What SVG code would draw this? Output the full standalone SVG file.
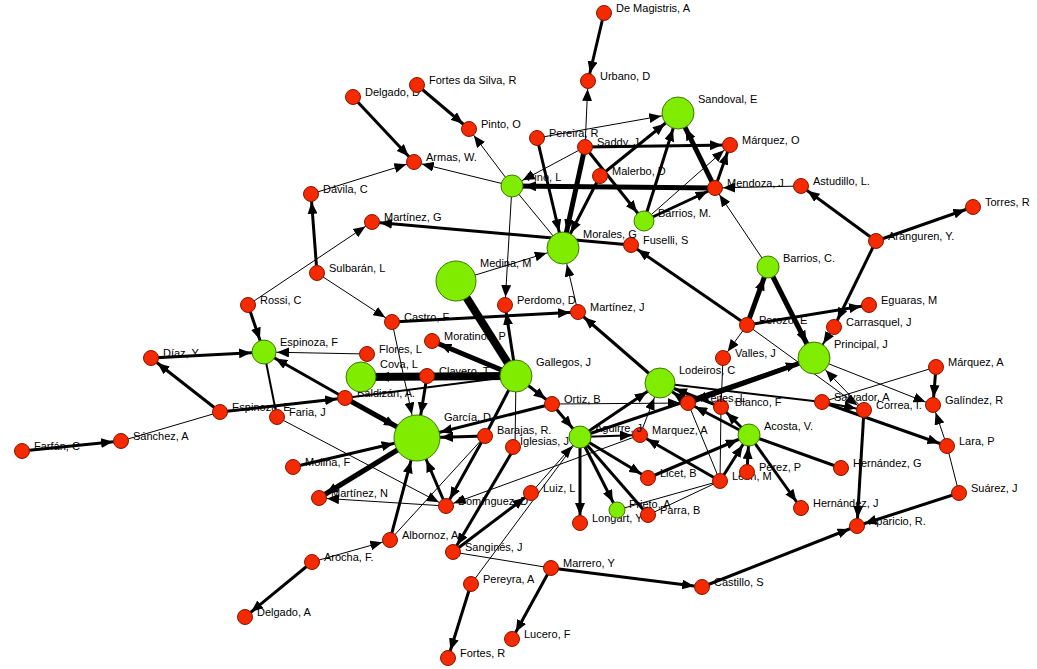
<svg xmlns="http://www.w3.org/2000/svg" width="1037" height="669" viewBox="0 0 1037 669">
<style>
.e line{stroke:#000;fill:none}
.w1{stroke-width:1}
.w2{stroke-width:2}
.w3{stroke-width:3}
.w5{stroke-width:5}
.w8{stroke-width:8}
.r{fill:#f42a00;stroke:#8a1400;stroke-width:1}
.g{fill:#80ec00;stroke:#3c7a00;stroke-width:1}
text{font-family:"Liberation Sans",Arial,sans-serif;font-size:11px;fill:#000}
</style>
<defs>
<marker id="a8" markerUnits="userSpaceOnUse" orient="auto" markerWidth="12" markerHeight="10" refX="20" refY="5"><path d="M0,0 L12,5 L0,10z"/></marker>
<marker id="a9" markerUnits="userSpaceOnUse" orient="auto" markerWidth="12" markerHeight="10" refX="21" refY="5"><path d="M0,0 L12,5 L0,10z"/></marker>
<marker id="a10" markerUnits="userSpaceOnUse" orient="auto" markerWidth="12" markerHeight="10" refX="23" refY="5"><path d="M0,0 L12,5 L0,10z"/></marker>
<marker id="a11" markerUnits="userSpaceOnUse" orient="auto" markerWidth="12" markerHeight="10" refX="24" refY="5"><path d="M0,0 L12,5 L0,10z"/></marker>
<marker id="a12" markerUnits="userSpaceOnUse" orient="auto" markerWidth="12" markerHeight="10" refX="25" refY="5"><path d="M0,0 L12,5 L0,10z"/></marker>
<marker id="a15" markerUnits="userSpaceOnUse" orient="auto" markerWidth="12" markerHeight="10" refX="28" refY="5"><path d="M0,0 L12,5 L0,10z"/></marker>
<marker id="a16" markerUnits="userSpaceOnUse" orient="auto" markerWidth="12" markerHeight="10" refX="29" refY="5"><path d="M0,0 L12,5 L0,10z"/></marker>
<marker id="a20" markerUnits="userSpaceOnUse" orient="auto" markerWidth="12" markerHeight="10" refX="33" refY="5"><path d="M0,0 L12,5 L0,10z"/></marker>
<marker id="a23" markerUnits="userSpaceOnUse" orient="auto" markerWidth="12" markerHeight="10" refX="36" refY="5"><path d="M0,0 L12,5 L0,10z"/></marker>
</defs>
<rect width="1037" height="669" fill="#fff"/>
<g id="connectors" class="e">
<line class="w3" x1="604" y1="13" x2="588" y2="81" marker-end="url(#a8)"/>
<line class="w1" x1="585" y1="147" x2="588" y2="81" marker-end="url(#a8)"/>
<line class="w1" x1="537" y1="138" x2="678" y2="113" marker-end="url(#a16)"/>
<line class="w3" x1="585" y1="147" x2="730" y2="145" marker-end="url(#a8)"/>
<line class="w3" x1="537" y1="138" x2="563" y2="248" marker-end="url(#a16)"/>
<line class="w5" x1="585" y1="147" x2="563" y2="248" marker-end="url(#a16)"/>
<line class="w3" x1="585" y1="147" x2="644" y2="221" marker-end="url(#a10)"/>
<line class="w1" x1="585" y1="147" x2="512" y2="186" marker-end="url(#a11)"/>
<line class="w3" x1="600" y1="176" x2="678" y2="113" marker-end="url(#a16)"/>
<line class="w3" x1="600" y1="176" x2="563" y2="248" marker-end="url(#a16)"/>
<line class="w3" x1="644" y1="221" x2="678" y2="113" marker-end="url(#a16)"/>
<line class="w5" x1="715" y1="188" x2="678" y2="113" marker-end="url(#a16)"/>
<line class="w3" x1="715" y1="188" x2="730" y2="145" marker-end="url(#a8)"/>
<line class="w5" x1="715" y1="188" x2="512" y2="186" marker-end="url(#a11)"/>
<line class="w1" x1="644" y1="221" x2="730" y2="145" marker-end="url(#a8)"/>
<line class="w3" x1="644" y1="221" x2="715" y2="188" marker-end="url(#a8)"/>
<line class="w1" x1="801" y1="186" x2="715" y2="188" marker-end="url(#a8)"/>
<line class="w3" x1="876" y1="241" x2="801" y2="186" marker-end="url(#a8)"/>
<line class="w3" x1="876" y1="241" x2="973" y2="207" marker-end="url(#a8)"/>
<line class="w3" x1="876" y1="241" x2="834" y2="327" marker-end="url(#a8)"/>
<line class="w1" x1="768" y1="267" x2="715" y2="188" marker-end="url(#a8)"/>
<line class="w5" x1="747" y1="325" x2="768" y2="267" marker-end="url(#a11)"/>
<line class="w3" x1="747" y1="325" x2="631" y2="245" marker-end="url(#a8)"/>
<line class="w5" x1="768" y1="267" x2="814" y2="358" marker-end="url(#a16)"/>
<line class="w3" x1="747" y1="325" x2="869" y2="305" marker-end="url(#a8)"/>
<line class="w1" x1="747" y1="325" x2="723" y2="358" marker-end="url(#a8)"/>
<line class="w1" x1="747" y1="325" x2="864" y2="410" marker-end="url(#a8)"/>
<line class="w2" x1="834" y1="327" x2="814" y2="358" marker-end="url(#a16)"/>
<line class="w1" x1="814" y1="358" x2="933" y2="405" marker-end="url(#a8)"/>
<line class="w1" x1="936" y1="367" x2="822" y2="402"/>
<line class="w3" x1="936" y1="367" x2="933" y2="405" marker-end="url(#a8)"/>
<line class="w1" x1="947" y1="446" x2="933" y2="405" marker-end="url(#a8)"/>
<line class="w1" x1="864" y1="410" x2="814" y2="358" marker-end="url(#a16)"/>
<line class="w3" x1="822" y1="402" x2="947" y2="446" marker-end="url(#a8)"/>
<line class="w2" x1="822" y1="402" x2="660" y2="383"/>
<line class="w2" x1="822" y1="402" x2="864" y2="410" marker-end="url(#a8)"/>
<line class="w3" x1="864" y1="410" x2="857" y2="526" marker-end="url(#a8)"/>
<line class="w1" x1="959" y1="493" x2="947" y2="446"/>
<line class="w3" x1="959" y1="493" x2="857" y2="526" marker-end="url(#a8)"/>
<line class="w3" x1="702" y1="587" x2="857" y2="526" marker-end="url(#a8)"/>
<line class="w3" x1="551" y1="568" x2="702" y2="587" marker-end="url(#a8)"/>
<line class="w3" x1="551" y1="568" x2="512" y2="639" marker-end="url(#a8)"/>
<line class="w3" x1="471" y1="584" x2="448" y2="658" marker-end="url(#a8)"/>
<line class="w1" x1="551" y1="568" x2="453" y2="552"/>
<line class="w3" x1="312" y1="562" x2="245" y2="617" marker-end="url(#a8)"/>
<line class="w1" x1="312" y1="562" x2="390" y2="540" marker-end="url(#a8)"/>
<line class="w3" x1="390" y1="540" x2="417" y2="438" marker-end="url(#a23)"/>
<line class="w3" x1="446" y1="506" x2="417" y2="438" marker-end="url(#a23)"/>
<line class="w1" x1="446" y1="506" x2="319" y2="498" marker-end="url(#a8)"/>
<line class="w5" x1="417" y1="438" x2="319" y2="498" marker-end="url(#a8)"/>
<line class="w3" x1="293" y1="467" x2="417" y2="438" marker-end="url(#a23)"/>
<line class="w3" x1="485" y1="436" x2="446" y2="506" marker-end="url(#a8)"/>
<line class="w3" x1="515" y1="447" x2="453" y2="552" marker-end="url(#a8)"/>
<line class="w1" x1="277" y1="417" x2="446" y2="506" marker-end="url(#a8)"/>
<line class="w1" x1="640" y1="435" x2="446" y2="506" marker-end="url(#a8)"/>
<line class="w1" x1="485" y1="436" x2="390" y2="540"/>
<line class="w3" x1="552" y1="404" x2="417" y2="438" marker-end="url(#a23)"/>
<line class="w3" x1="485" y1="436" x2="417" y2="438" marker-end="url(#a23)"/>
<line class="w3" x1="427" y1="376" x2="417" y2="438" marker-end="url(#a23)"/>
<line class="w1" x1="392" y1="322" x2="417" y2="438" marker-end="url(#a23)"/>
<line class="w5" x1="345" y1="398" x2="417" y2="438" marker-end="url(#a23)"/>
<line class="w3" x1="345" y1="398" x2="264" y2="352" marker-end="url(#a12)"/>
<line class="w3" x1="220" y1="412" x2="345" y2="398" marker-end="url(#a8)"/>
<line class="w1" x1="367" y1="354" x2="264" y2="352" marker-end="url(#a12)"/>
<line class="w3" x1="151" y1="358" x2="264" y2="352" marker-end="url(#a12)"/>
<line class="w3" x1="248" y1="305" x2="264" y2="352" marker-end="url(#a12)"/>
<line class="w1" x1="248" y1="305" x2="372" y2="222" marker-end="url(#a8)"/>
<line class="w3" x1="220" y1="412" x2="151" y2="358" marker-end="url(#a8)"/>
<line class="w1" x1="220" y1="412" x2="121" y2="441"/>
<line class="w3" x1="22" y1="451" x2="121" y2="441" marker-end="url(#a8)"/>
<line class="w2" x1="264" y1="352" x2="277" y2="417"/>
<line class="w1" x1="317" y1="273" x2="392" y2="322" marker-end="url(#a8)"/>
<line class="w3" x1="317" y1="273" x2="311" y2="194" marker-end="url(#a8)"/>
<line class="w1" x1="311" y1="194" x2="414" y2="162" marker-end="url(#a8)"/>
<line class="w3" x1="353" y1="97" x2="414" y2="162" marker-end="url(#a8)"/>
<line class="w3" x1="417" y1="85" x2="469" y2="129" marker-end="url(#a8)"/>
<line class="w1" x1="512" y1="186" x2="469" y2="129" marker-end="url(#a8)"/>
<line class="w1" x1="512" y1="186" x2="414" y2="162" marker-end="url(#a8)"/>
<line class="w1" x1="512" y1="186" x2="505" y2="305" marker-end="url(#a8)"/>
<line class="w1" x1="512" y1="186" x2="563" y2="248"/>
<line class="w1" x1="456" y1="281" x2="563" y2="248" marker-end="url(#a16)"/>
<line class="w3" x1="631" y1="245" x2="372" y2="222" marker-end="url(#a8)"/>
<line class="w1" x1="578" y1="312" x2="563" y2="248" marker-end="url(#a16)"/>
<line class="w3" x1="392" y1="322" x2="578" y2="312" marker-end="url(#a8)"/>
<line class="w3" x1="660" y1="383" x2="578" y2="312" marker-end="url(#a8)"/>
<line class="w3" x1="516" y1="376" x2="505" y2="305" marker-end="url(#a8)"/>
<line class="w5" x1="516" y1="376" x2="432" y2="341" marker-end="url(#a8)"/>
<line class="w8" x1="516" y1="376" x2="361" y2="377" marker-end="url(#a15)"/>
<line class="w8" x1="456" y1="281" x2="516" y2="376"/>
<line class="w2" x1="516" y1="376" x2="345" y2="398"/>
<line class="w3" x1="516" y1="376" x2="485" y2="436"/>
<line class="w1" x1="516" y1="376" x2="515" y2="447"/>
<line class="w3" x1="516" y1="376" x2="552" y2="404" marker-end="url(#a8)"/>
<line class="w3" x1="552" y1="404" x2="580" y2="437" marker-end="url(#a11)"/>
<line class="w1" x1="552" y1="404" x2="688" y2="403" marker-end="url(#a8)"/>
<line class="w3" x1="580" y1="437" x2="660" y2="383" marker-end="url(#a15)"/>
<line class="w1" x1="640" y1="435" x2="660" y2="383" marker-end="url(#a15)"/>
<line class="w2" x1="580" y1="437" x2="640" y2="435" marker-end="url(#a8)"/>
<line class="w3" x1="580" y1="437" x2="580" y2="523" marker-end="url(#a8)"/>
<line class="w3" x1="580" y1="437" x2="617" y2="510" marker-end="url(#a9)"/>
<line class="w3" x1="580" y1="437" x2="648" y2="515"/>
<line class="w3" x1="580" y1="437" x2="648" y2="478" marker-end="url(#a8)"/>
<line class="w1" x1="531" y1="493" x2="580" y2="437" marker-end="url(#a11)"/>
<line class="w1" x1="471" y1="584" x2="580" y2="437"/>
<line class="w3" x1="453" y1="552" x2="531" y2="493" marker-end="url(#a8)"/>
<line class="w3" x1="648" y1="478" x2="749" y2="435" marker-end="url(#a11)"/>
<line class="w3" x1="720" y1="481" x2="749" y2="435" marker-end="url(#a11)"/>
<line class="w3" x1="747" y1="472" x2="749" y2="435" marker-end="url(#a11)"/>
<line class="w3" x1="749" y1="435" x2="801" y2="508" marker-end="url(#a8)"/>
<line class="w3" x1="749" y1="435" x2="841" y2="468"/>
<line class="w3" x1="720" y1="481" x2="640" y2="435" marker-end="url(#a8)"/>
<line class="w1" x1="720" y1="481" x2="688" y2="403"/>
<line class="w1" x1="720" y1="481" x2="721" y2="407"/>
<line class="w1" x1="720" y1="481" x2="617" y2="510"/>
<line class="w1" x1="720" y1="481" x2="648" y2="515"/>
<line class="w5" x1="814" y1="358" x2="688" y2="403" marker-end="url(#a8)"/>
<line class="w3" x1="580" y1="437" x2="814" y2="358" marker-end="url(#a16)"/>
<line class="w3" x1="749" y1="435" x2="721" y2="407" marker-end="url(#a8)"/>
<line class="w3" x1="688" y1="403" x2="660" y2="383" marker-end="url(#a15)"/>
<line class="w3" x1="721" y1="407" x2="660" y2="383" marker-end="url(#a15)"/>
<line class="w1" x1="723" y1="358" x2="721" y2="407"/>
<line class="w3" x1="749" y1="435" x2="688" y2="403" marker-end="url(#a8)"/>
</g>
<g id="n-delgado-d"><circle class="r" cx="353" cy="97" r="7.5"/><text x="365" y="96">Delgado, D</text></g>
<g id="n-fortes-da-silva"><circle class="r" cx="417" cy="85" r="7.5"/><text x="429" y="84">Fortes da Silva, R</text></g>
<g id="n-pinto"><circle class="r" cx="469" cy="129" r="7.5"/><text x="481" y="128">Pinto, O</text></g>
<g id="n-armas"><circle class="r" cx="414" cy="162" r="7.5"/><text x="426" y="161">Armas, W.</text></g>
<g id="n-davila"><circle class="r" cx="311" cy="194" r="7.5"/><text x="323" y="193">Dávila, C</text></g>
<g id="n-martinez-g"><circle class="r" cx="372" cy="222" r="7.5"/><text x="384" y="221">Martínez, G</text></g>
<g id="n-de-magistris"><circle class="r" cx="604" cy="13" r="7.5"/><text x="616" y="12">De Magistris, A</text></g>
<g id="n-urbano"><circle class="r" cx="588" cy="81" r="7.5"/><text x="600" y="80">Urbano, D</text></g>
<g id="n-pereira"><circle class="r" cx="537" cy="138" r="7.5"/><text x="549" y="137">Pereira, R</text></g>
<g id="n-saddy"><circle class="r" cx="585" cy="147" r="7.5"/><text x="597" y="146">Saddy, J</text></g>
<g id="n-marquez-o"><circle class="r" cx="730" cy="145" r="7.5"/><text x="742" y="144">Márquez, O</text></g>
<g id="n-malerbo"><circle class="r" cx="600" cy="176" r="7.5"/><text x="612" y="175">Malerbo, D</text></g>
<g id="n-mendoza"><circle class="r" cx="715" cy="188" r="7.5"/><text x="727" y="187">Mendoza, J</text></g>
<g id="n-astudillo"><circle class="r" cx="801" cy="186" r="7.5"/><text x="813" y="185">Astudillo, L.</text></g>
<g id="n-torres"><circle class="r" cx="973" cy="207" r="7.5"/><text x="985" y="206">Torres, R</text></g>
<g id="n-rossi"><circle class="r" cx="248" cy="305" r="7.5"/><text x="260" y="304">Rossi, C</text></g>
<g id="n-diaz"><circle class="r" cx="151" cy="358" r="7.5"/><text x="163" y="357">Díaz, Y</text></g>
<g id="n-espinoza-e"><circle class="r" cx="220" cy="412" r="7.5"/><text x="232" y="411">Espinoza, E</text></g>
<g id="n-sanchez"><circle class="r" cx="121" cy="441" r="7.5"/><text x="133" y="440">Sánchez, A</text></g>
<g id="n-farfan"><circle class="r" cx="22" cy="451" r="7.5"/><text x="34" y="450">Farfán, C</text></g>
<g id="n-sulbaran"><circle class="r" cx="317" cy="273" r="7.5"/><text x="329" y="272">Sulbarán, L</text></g>
<g id="n-castro"><circle class="r" cx="392" cy="322" r="7.5"/><text x="404" y="321">Castro, F</text></g>
<g id="n-perdomo"><circle class="r" cx="505" cy="305" r="7.5"/><text x="517" y="304">Perdomo, D</text></g>
<g id="n-moratinos"><circle class="r" cx="432" cy="341" r="7.5"/><text x="444" y="340">Moratinos, P</text></g>
<g id="n-flores"><circle class="r" cx="367" cy="354" r="7.5"/><text x="379" y="353">Flores, L</text></g>
<g id="n-clavero"><circle class="r" cx="427" cy="376" r="7.5"/><text x="439" y="375">Clavero, T</text></g>
<g id="n-baldizan"><circle class="r" cx="345" cy="398" r="7.5"/><text x="357" y="397">Baldizán, A.</text></g>
<g id="n-faria"><circle class="r" cx="277" cy="417" r="7.5"/><text x="289" y="416">Faria, J</text></g>
<g id="n-barajas"><circle class="r" cx="485" cy="436" r="7.5"/><text x="497" y="434">Barajas, R.</text></g>
<g id="n-fuselli"><circle class="r" cx="631" cy="245" r="7.5"/><text x="643" y="244">Fuselli, S</text></g>
<g id="n-martinez-j"><circle class="r" cx="578" cy="312" r="7.5"/><text x="590" y="311">Martínez, J</text></g>
<g id="n-perozo"><circle class="r" cx="747" cy="325" r="7.5"/><text x="759" y="324">Perozo, E</text></g>
<g id="n-valles"><circle class="r" cx="723" cy="358" r="7.5"/><text x="735" y="357">Valles, J</text></g>
<g id="n-ortiz"><circle class="r" cx="552" cy="404" r="7.5"/><text x="564" y="403">Ortiz, B</text></g>
<g id="n-blanco"><circle class="r" cx="721" cy="407" r="7.5"/><text x="735" y="406">Blanco, F</text></g>
<g id="n-freites"><circle class="r" cx="688" cy="403" r="7.5"/><text x="700" y="402">Freites, L</text></g>
<g id="n-marquez-a2"><circle class="r" cx="640" cy="435" r="7.5"/><text x="652" y="434">Marquez, A</text></g>
<g id="n-iglesias"><circle class="r" cx="513" cy="447" r="7.5"/><text x="520" y="445">Iglesias, J</text></g>
<g id="n-eguaras"><circle class="r" cx="869" cy="305" r="7.5"/><text x="881" y="304">Eguaras, M</text></g>
<g id="n-carrasquel"><circle class="r" cx="834" cy="327" r="7.5"/><text x="846" y="326">Carrasquel, J</text></g>
<g id="n-aranguren"><circle class="r" cx="876" cy="241" r="7.5"/><text x="888" y="240">Aranguren, Y.</text></g>
<g id="n-marquez-a"><circle class="r" cx="936" cy="367" r="7.5"/><text x="948" y="366">Márquez, A</text></g>
<g id="n-galindez"><circle class="r" cx="933" cy="405" r="7.5"/><text x="945" y="404">Galíndez, R</text></g>
<g id="n-salvador"><circle class="r" cx="822" cy="402" r="7.5"/><text x="834" y="401">Salvador, A</text></g>
<g id="n-correa"><circle class="r" cx="864" cy="410" r="7.5"/><text x="876" y="409">Correa, I.</text></g>
<g id="n-lara"><circle class="r" cx="947" cy="446" r="7.5"/><text x="959" y="445">Lara, P</text></g>
<g id="n-molina"><circle class="r" cx="293" cy="467" r="7.5"/><text x="305" y="466">Molina, F</text></g>
<g id="n-martinez-n"><circle class="r" cx="319" cy="498" r="7.5"/><text x="331" y="497">Martínez, N</text></g>
<g id="n-dominguez"><circle class="r" cx="446" cy="506" r="7.5"/><text x="458" y="505">Domínguez, D</text></g>
<g id="n-albornoz"><circle class="r" cx="390" cy="540" r="7.5"/><text x="402" y="539">Albornoz, A.</text></g>
<g id="n-arocha"><circle class="r" cx="312" cy="562" r="7.5"/><text x="324" y="561">Arocha, F.</text></g>
<g id="n-sangines"><circle class="r" cx="453" cy="552" r="7.5"/><text x="465" y="551">Sanginés, J</text></g>
<g id="n-pereyra"><circle class="r" cx="471" cy="584" r="7.5"/><text x="483" y="583">Pereyra, A</text></g>
<g id="n-fortes-r"><circle class="r" cx="448" cy="658" r="7.5"/><text x="460" y="657">Fortes, R</text></g>
<g id="n-delgado-a"><circle class="r" cx="245" cy="617" r="7.5"/><text x="257" y="616">Delgado, A</text></g>
<g id="n-luiz"><circle class="r" cx="531" cy="493" r="7.5"/><text x="543" y="492">Luiz, L</text></g>
<g id="n-licet"><circle class="r" cx="648" cy="478" r="7.5"/><text x="660" y="477">Licet, B</text></g>
<g id="n-leon"><circle class="r" cx="720" cy="481" r="7.5"/><text x="732" y="480">León, M</text></g>
<g id="n-perez"><circle class="r" cx="747" cy="472" r="7.5"/><text x="759" y="471">Pérez, P</text></g>
<g id="n-longart"><circle class="r" cx="580" cy="523" r="7.5"/><text x="592" y="522">Longart, Y</text></g>
<g id="n-parra"><circle class="r" cx="648" cy="515" r="7.5"/><text x="660" y="514">Parra, B</text></g>
<g id="n-marrero"><circle class="r" cx="551" cy="568" r="7.5"/><text x="563" y="567">Marrero, Y</text></g>
<g id="n-castillo"><circle class="r" cx="702" cy="587" r="7.5"/><text x="714" y="586">Castillo, S</text></g>
<g id="n-lucero"><circle class="r" cx="512" cy="639" r="7.5"/><text x="524" y="638">Lucero, F</text></g>
<g id="n-hernandez-g"><circle class="r" cx="841" cy="468" r="7.5"/><text x="853" y="467">Hernández, G</text></g>
<g id="n-suarez"><circle class="r" cx="959" cy="493" r="7.5"/><text x="971" y="492">Suárez, J</text></g>
<g id="n-hernandez-j"><circle class="r" cx="801" cy="508" r="7.5"/><text x="813" y="507">Hernández, J</text></g>
<g id="n-aparicio"><circle class="r" cx="857" cy="526" r="7.5"/><text x="869" y="525">Aparicio, R.</text></g>
<g id="n-sandoval"><circle class="g" cx="678" cy="113" r="16"/><text x="698" y="103">Sandoval, E</text></g>
<g id="n-pino"><circle class="g" cx="512" cy="186" r="11"/><text x="527" y="181">Pino, L</text></g>
<g id="n-barrios-m"><circle class="g" cx="644" cy="221" r="10"/><text x="658" y="217">Barrios, M.</text></g>
<g id="n-morales"><circle class="g" cx="563" cy="248" r="16"/><text x="583" y="238">Morales, G</text></g>
<g id="n-medina"><circle class="g" cx="456" cy="281" r="20"/><text x="480" y="267">Medina, M</text></g>
<g id="n-espinoza-f"><circle class="g" cx="264" cy="352" r="12"/><text x="280" y="346">Espinoza, F</text></g>
<g id="n-cova"><circle class="g" cx="361" cy="377" r="15"/><text x="380" y="368">Cova, L</text></g>
<g id="n-gallegos"><circle class="g" cx="516" cy="376" r="16"/><text x="536" y="366">Gallegos, J</text></g>
<g id="n-garcia"><circle class="g" cx="417" cy="438" r="23"/><text x="444" y="421">García, D</text></g>
<g id="n-barrios-c"><circle class="g" cx="768" cy="267" r="11"/><text x="783" y="262">Barrios, C.</text></g>
<g id="n-principal"><circle class="g" cx="814" cy="358" r="16"/><text x="834" y="348">Principal, J</text></g>
<g id="n-lodeiros"><circle class="g" cx="660" cy="383" r="15"/><text x="679" y="374">Lodeiros, C</text></g>
<g id="n-aguirre"><circle class="g" cx="580" cy="437" r="11"/><text x="595" y="432">Aguirre, J</text></g>
<g id="n-acosta"><circle class="g" cx="749" cy="435" r="11"/><text x="764" y="430">Acosta, V.</text></g>
<g id="n-prieto"><circle class="g" cx="617" cy="510" r="8"/><text x="629" y="508">Prieto, A</text></g>
</svg>
